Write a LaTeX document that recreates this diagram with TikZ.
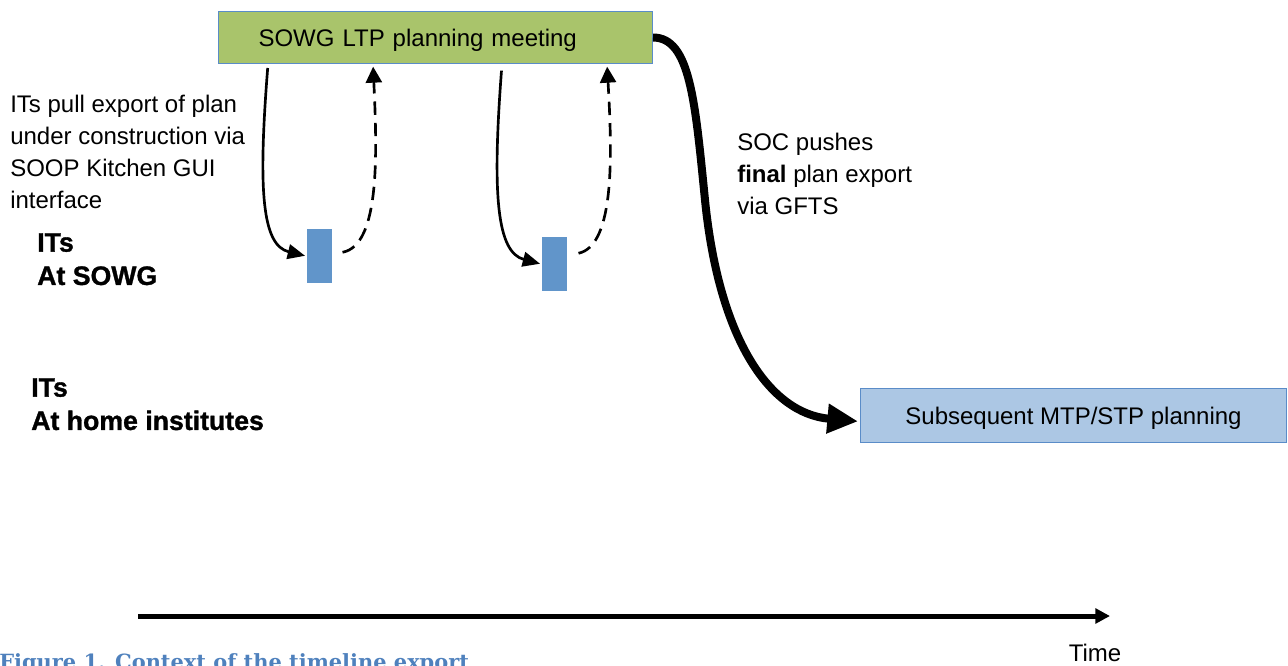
\documentclass[tikz,border=0pt]{standalone}
\usepackage{fontspec}
\setmainfont{Liberation Sans}
\newfontfamily\captionserif{DejaVu Serif}
\newfontfamily\heavyfont[FakeBold=1.2]{Liberation Sans Bold}
\usetikzlibrary{arrows.meta,calc}

\definecolor{meetgreen}{HTML}{A9C46B}
\definecolor{boxedge}{HTML}{5A8CC8}
\definecolor{slotblue}{HTML}{6195CA}
\definecolor{planblue}{HTML}{ACC7E4}
\definecolor{captionblue}{HTML}{4F81BD}

\begin{document}
\begin{tikzpicture}[x=0.75pt,y=-0.75pt]

	\tikzstyle plain text=[inner sep=0pt,align=left,font=\fontsize{18}{24}\selectfont];
	\tikzstyle group text=[inner sep=0pt,align=left,font=\fontsize{20}{25}\heavyfont];
	\tikzstyle meeting box=[draw=boxedge,fill=meetgreen,line width=0.75pt,minimum width=325.5pt,minimum height=39pt,text width=265.5pt,inner xsep=30pt,align=left,text depth=0pt,font=\fontsize{18}{24}\selectfont];
	\tikzstyle plan box=[draw=boxedge,fill=planblue,line width=0.75pt,minimum width=319.5pt,minimum height=40.5pt,text depth=0pt,font=\fontsize{18}{24}\selectfont];
	\tikzstyle slot=[fill=slotblue,minimum width=18.75pt,minimum height=40.5pt,inner sep=0pt];
	\tikzstyle pull lines=[line width=2pt,-{Triangle[length=13pt,width=11pt]}];
	\tikzstyle return lines=[line width=2pt,dash pattern=on 10pt off 6pt,-{Triangle[length=12pt,width=12pt]}];
	\tikzstyle push line=[line width=6pt,-{Triangle[length=23pt,width=21pt]}];
	\tikzstyle time line=[line width=3.75pt,-{Triangle[length=11pt,width=11pt]}];

	\useasboundingbox (0,0) rectangle (1288,665);

	% boxes
	\node[meeting box,anchor=north west] (meeting) at (218,11) {SOWG LTP planning meeting};
	\node[plan box,anchor=north west] (plan) at (860,388) {Subsequent MTP/STP planning};
	\node[slot,anchor=north west] (slot1) at (307,229) {};
	\node[slot,anchor=north west] (slot2) at (542,237) {};

	% labels
	\node[plain text,anchor=north west] (pulltext) at (10,95) {ITs pull export of plan\\under construction via\\SOOP Kitchen GUI\\interface};
	\node[group text,anchor=north west] (sowg) at (37,233) {ITs\\At SOWG};
	\node[group text,anchor=north west] (home) at (31,378) {ITs\\At home institutes};
	\node[plain text,anchor=north west] (pushtext) at (737,133) {SOC pushes\\\textbf{final} plan export\\via GFTS};

	% pull and return of the plan
	\draw[pull lines,shorten <=3pt,shorten >=1.5pt] ([xshift=37.5pt]meeting.south west) .. controls +(-10,127) and +(-45,-11) .. (slot1.west);
	\draw[return lines,shorten >=2pt] ([xshift=7.5pt,yshift=3pt]slot1.east) .. controls +(38,-7) and +(4,87) .. ([xshift=116.25pt]meeting.south west);
	\draw[pull lines,shorten <=5pt,shorten >=1.5pt] ([xshift=213pt]meeting.south west) .. controls +(-10,132) and +(-45,-12) .. (slot2.west);
	\draw[return lines,shorten >=2pt] ([xshift=8.25pt,yshift=8.25pt]slot2.east) .. controls +(37,-8) and +(5,87) .. ([xshift=291.75pt]meeting.south west);

	% final export
	\coordinate (bend) at (705,200);
	\draw[push line,shorten >=1.5pt] (meeting.east) .. controls +(37,0) and (695,100) .. (bend) .. controls (719,340) and +(-90,-8) .. ([yshift=-4.5pt]plan.west);

	% time axis
	\coordinate (tstart) at (138,616);
	\coordinate (tend) at (1110,616);
	\draw[time line] (tstart) -- (tend);
	\node[plain text,anchor=base] (timelabel) at (1095,661) {Time};

	\node[inner sep=0pt,anchor=base west,text=captionblue,font=\fontsize{15.7}{18}\captionserif\bfseries] (caption) at (-1,669) {Figure 1. Context of the timeline export};

\end{tikzpicture}
\end{document}
